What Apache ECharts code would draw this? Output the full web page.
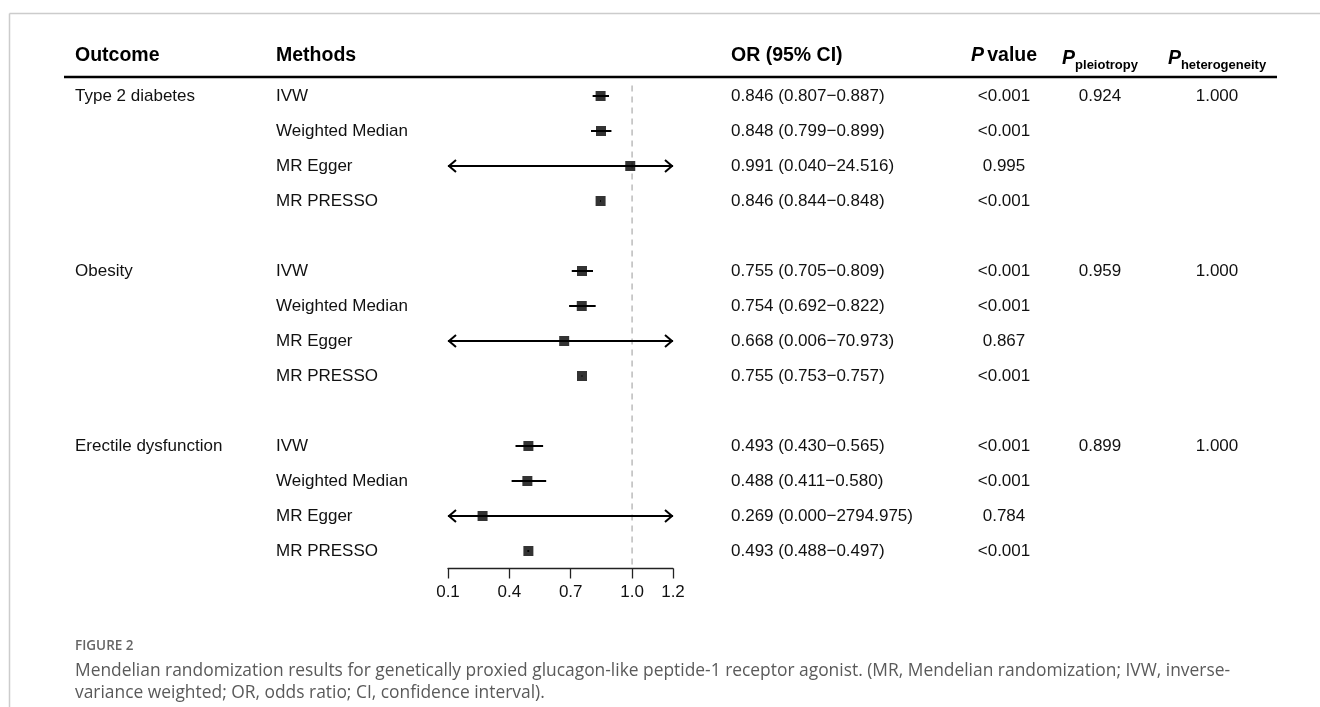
<!DOCTYPE html>
<html>
<head>
<meta charset="utf-8">
<script src="https://cdn.jsdelivr.net/npm/echarts@6/dist/echarts.min.js"></script>
<style>
html,body{margin:0;padding:0;background:#fff;}
#chart{width:1320px;height:707px;}
</style>
</head>
<body>
<div id="chart"></div>
<script>
// ---------------- data ----------------
const outcomes = ['Type 2 diabetes', 'Obesity', 'Erectile dysfunction'];
const methods = ['IVW', 'Weighted Median', 'MR Egger', 'MR PRESSO'];
const orT2D = [0.846, 0.848, 0.991, 0.846];
const lowT2D = [0.807, 0.799, 0.040, 0.844];
const upT2D = [0.887, 0.899, 24.516, 0.848];
const orObesity = [0.755, 0.754, 0.668, 0.755];
const lowObesity = [0.705, 0.692, 0.006, 0.753];
const upObesity = [0.809, 0.822, 70.973, 0.757];
const orED = [0.493, 0.488, 0.269, 0.493];
const lowED = [0.430, 0.411, 0.000, 0.488];
const upED = [0.565, 0.580, 2794.975, 0.497];
const pT2D = ['<0.001', '<0.001', '0.995', '<0.001'];
const pObesity = ['<0.001', '<0.001', '0.867', '<0.001'];
const pED = ['<0.001', '<0.001', '0.784', '<0.001'];
const pPleiotropy = ['0.924', '0.959', '0.899'];
const pHeterogeneity = ['1.000', '1.000', '1.000'];
const xTicks = [0.1, 0.4, 0.7, 1.0, 1.2];
const refValue = 1.0;
const caption1 = 'Mendelian randomization results for genetically proxied glucagon-like peptide-1 receptor agonist. (MR, Mendelian randomization; IVW, inverse-';
const caption2 = 'variance weighted; OR, odds ratio; CI, confidence interval).';

// ---------------- build ----------------
const orAll = [orT2D, orObesity, orED];
const lowAll = [lowT2D, lowObesity, lowED];
const upAll = [upT2D, upObesity, upED];
const pAll = [pT2D, pObesity, pED];
const xMin = xTicks[0], xMax = xTicks[xTicks.length - 1];
const fmt = v => v.toFixed(3);

const ciData = [], ptData = [], textData = [];
outcomes.forEach((o, g) => {
  methods.forEach((m, k) => {
    const row = g * 5 + k;
    ciData.push([lowAll[g][k], upAll[g][k], row]);
    ptData.push([orAll[g][k], row]);
    textData.push([xMin, row, g, k]);
  });
});

const FONT = '"Liberation Sans", Arial, sans-serif';
const FS = 17;
const HFS = 19.5;
const TXT = '#111';

const COL = { outcome: 75, method: 276, or: 731, p: 1004, pl: 1100, ph: 1217 };

const chart = echarts.init(document.getElementById('chart'));

const headerY = 56;
const hb = { fontFamily: FONT, fontSize: HFS, fontWeight: 'bold', fill: '#000', verticalAlign: 'middle' };
const option = {
  animation: false,
  backgroundColor: '#fff',
  grid: { left: 448, width: 225, top: 61, height: 507.5 },
  xAxis: {
    type: 'value', min: xMin, max: xMax, position: 'bottom',
    axisLine: { show: true, onZero: false, lineStyle: { color: '#222', width: 1.3 } },
    axisTick: { show: true, customValues: xTicks, length: 10, lineStyle: { color: '#222', width: 1.3 } },
    axisLabel: { customValues: xTicks, formatter: v => v.toFixed(1), fontFamily: FONT, fontSize: FS, color: TXT, margin: 15 },
    splitLine: { show: false }
  },
  yAxis: { type: 'value', min: -1, max: 13.5, inverse: true, show: false },
  series: [
    {
      type: 'line', silent: true, symbol: 'none',
      data: [[refValue, -0.3], [refValue, 13.5]],
      lineStyle: { color: '#bbb', width: 1.5, type: [6, 5] },
      z: 1
    },
    {
      type: 'custom', silent: true, clip: false,
      encode: { x: [0, 1], y: 2 },
      data: ciData,
      renderItem: function (params, api) {
        const lo = api.value(0), hi = api.value(1), row = api.value(2);
        const p1 = api.coord([Math.max(lo, xMin), row]);
        const p2 = api.coord([Math.min(hi, xMax), row]);
        const y = p1[1];
        const st = { stroke: '#000', lineWidth: 2, fill: null };
        const ch = [{ type: 'line', shape: { x1: p1[0], y1: y, x2: p2[0], y2: y }, style: st }];
        if (lo < xMin) ch.push({ type: 'polyline', shape: { points: [[p1[0] + 8, y - 6], [p1[0] + 1, y], [p1[0] + 8, y + 6]] }, style: st });
        if (hi > xMax) ch.push({ type: 'polyline', shape: { points: [[p2[0] - 8, y - 6], [p2[0] - 1, y], [p2[0] - 8, y + 6]] }, style: st });
        return { type: 'group', children: ch };
      },
      z: 2
    },
    {
      type: 'scatter', silent: true, symbol: 'rect', symbolSize: 10,
      itemStyle: { color: '#000' },
      data: ptData, z: 3
    },
    {
      type: 'custom', silent: true, clip: false,
      encode: { x: 0, y: 1 },
      data: textData,
      renderItem: function (params, api) {
        const row = api.value(1), g = api.value(2), k = api.value(3);
        const y = api.coord([xMin, row])[1];
        const base = { fontFamily: FONT, fontSize: FS, fill: TXT, verticalAlign: 'middle' };
        const t = (x, s, align) => ({ type: 'text', x: x, y: y, style: Object.assign({}, base, { text: s, align: align }) });
        const ch = [];
        if (k === 0) ch.push(t(COL.outcome, outcomes[g], 'left'));
        ch.push(t(COL.method, methods[k], 'left'));
        ch.push(t(COL.or, fmt(orAll[g][k]) + ' (' + fmt(lowAll[g][k]) + '\u2212' + fmt(upAll[g][k]) + ')', 'left'));
        ch.push(t(COL.p, pAll[g][k], 'center'));
        if (k === 0) {
          ch.push(t(COL.pl, pPleiotropy[g], 'center'));
          ch.push(t(COL.ph, pHeterogeneity[g], 'center'));
        }
        return { type: 'group', children: ch };
      }
    }
  ],
  graphic: [
    // frame
    { type: 'line', shape: { x1: 9.5, y1: 13.5, x2: 1320, y2: 13.5 }, style: { stroke: '#ccc', lineWidth: 1.5 } },
    { type: 'line', shape: { x1: 9.5, y1: 13.5, x2: 9.5, y2: 707 }, style: { stroke: '#ccc', lineWidth: 1.5 } },
    // header rule
    { type: 'line', shape: { x1: 64, y1: 77, x2: 1277, y2: 77 }, style: { stroke: '#000', lineWidth: 2.5 } },
    // headers
    { type: 'text', x: COL.outcome, y: headerY, style: Object.assign({}, hb, { text: 'Outcome' }) },
    { type: 'text', x: COL.method, y: headerY, style: Object.assign({}, hb, { text: 'Methods' }) },
    { type: 'text', x: COL.or, y: headerY, style: Object.assign({}, hb, { text: 'OR (95% CI)' }) },
    { type: 'text', x: COL.p, y: headerY, style: {
        text: '{i|P} {b|value}', align: 'center', verticalAlign: 'middle', fill: '#000',
        rich: { i: { fontFamily: FONT, fontSize: HFS, fontWeight: 'bold', fontStyle: 'italic' }, b: { fontFamily: FONT, fontSize: HFS, fontWeight: 'bold' } } } },
    { type: 'text', x: COL.pl, y: headerY + 3, style: {
        text: '{i|P}{s|pleiotropy}', align: 'center', verticalAlign: 'middle', fill: '#000',
        rich: { i: { fontFamily: FONT, fontSize: HFS, fontWeight: 'bold', fontStyle: 'italic', lineHeight: 24 }, s: { fontFamily: FONT, fontSize: 13, fontWeight: 'bold', lineHeight: 12, padding: [12, 0, 0, 0] } } } },
    { type: 'text', x: COL.ph, y: headerY + 3, style: {
        text: '{i|P}{s|heterogeneity}', align: 'center', verticalAlign: 'middle', fill: '#000',
        rich: { i: { fontFamily: FONT, fontSize: HFS, fontWeight: 'bold', fontStyle: 'italic', lineHeight: 24 }, s: { fontFamily: FONT, fontSize: 13, fontWeight: 'bold', lineHeight: 12, padding: [12, 0, 0, 0] } } } },
    // caption
    { type: 'text', x: 75, y: 646, style: { text: 'FIGURE 2', fontFamily: '"Open Sans", sans-serif', fontSize: 13.5, fontWeight: 600, fill: '#666', verticalAlign: 'middle' } },
    { type: 'text', x: 75, y: 671, style: { text: caption1, fontFamily: '"Open Sans", sans-serif', fontSize: 17.4, fill: '#5a5a5a', verticalAlign: 'middle' } },
    { type: 'text', x: 75, y: 693, style: { text: caption2, fontFamily: '"Open Sans", sans-serif', fontSize: 17.4, fill: '#5a5a5a', verticalAlign: 'middle' } }
  ]
};
chart.setOption(option);
</script>
</body>
</html>
